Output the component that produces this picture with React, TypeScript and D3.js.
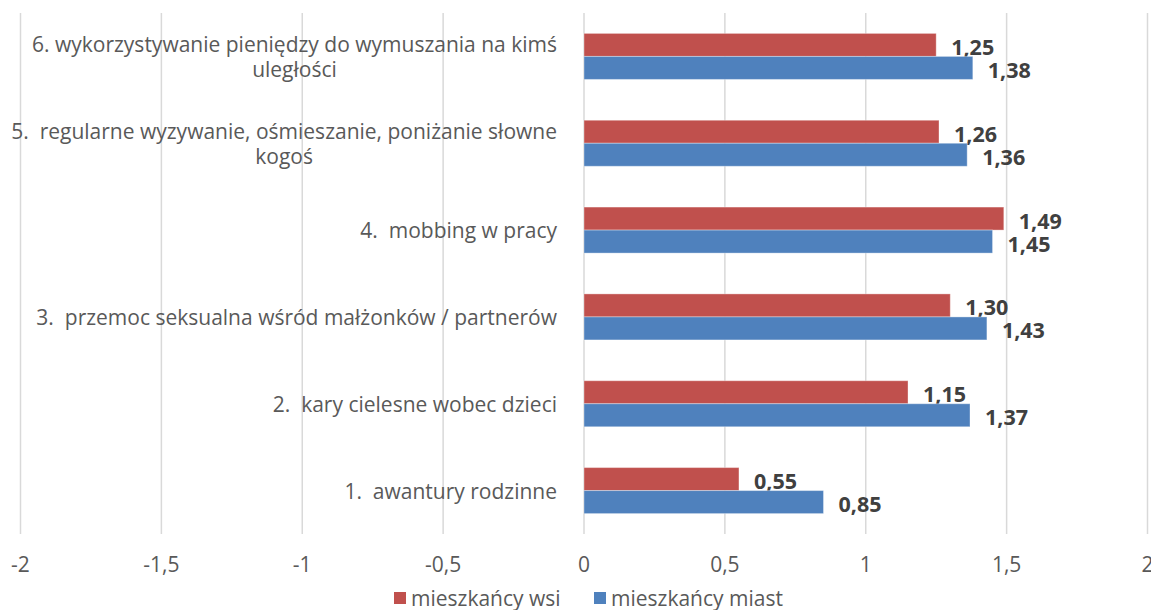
import { useEffect, useRef } from 'react';
import * as d3 from 'd3';

const W = 1151;
const H = 610;

// categories from bottom (1) to top (6), each split into the lines Excel wrapped it into
const CATEGORIES: string[][] = [
  ['1.  awantury rodzinne'],
  ['2.  kary cielesne wobec dzieci'],
  ['3.  przemoc seksualna wśród małżonków / partnerów'],
  ['4.  mobbing w pracy'],
  ['5.  regularne wyzywanie, ośmieszanie, poniżanie słowne', 'kogoś'],
  ['6. wykorzystywanie pieniędzy do wymuszania na kimś', 'uległości'],
];
const WSI = [0.55, 1.15, 1.3, 1.49, 1.26, 1.25];
const MIASTA = [0.85, 1.37, 1.43, 1.45, 1.36, 1.38];
const SERIES = [
  { key: 'wsi', name: 'mieszkańcy wsi', values: WSI, color: '#C0504D' },
  { key: 'miast', name: 'mieszkańcy miast', values: MIASTA, color: '#4F81BD' },
];
const X_TICKS = [-2, -1.5, -1, -0.5, 0, 0.5, 1, 1.5, 2];

const FONT = "'Open Sans', sans-serif";
const TEXT = '#595959';
const fmtTick = (d: number) => String(d).replace('.', ',');
const fmtVal = (d: number) => d.toFixed(2).replace('.', ',');

export default function App() {
  const ref = useRef<SVGSVGElement | null>(null);

  useEffect(() => {
    document.body.style.margin = '0';
    const svg = d3.select(ref.current);
    svg.selectAll('*').remove();

    const x = d3.scaleLinear().domain([-2, 2]).range([20.5, 1147.5]);
    const idx = d3.range(CATEGORIES.length).reverse(); // 6 at top
    const y = d3.scaleBand<number>().domain(idx).range([13, 534]).paddingInner(0.47).paddingOuter(0.235);
    const ySub = d3.scaleBand<string>().domain(SERIES.map(s => s.key)).range([0, y.bandwidth()]);

    // grid
    svg.append('g').selectAll('line').data(X_TICKS).join('line')
      .attr('x1', d => x(d)).attr('x2', d => x(d))
      .attr('y1', 13).attr('y2', 534)
      .attr('stroke', '#D9D9D9').attr('stroke-width', 1.5);

    // tick labels
    svg.append('g').selectAll('text').data(X_TICKS).join('text')
      .attr('x', d => x(d)).attr('y', 564)
      .attr('text-anchor', 'middle').attr('dominant-baseline', 'central')
      .attr('fill', TEXT).style('font-family', FONT).style('font-size', '21px')
      .text(d => fmtTick(d));

    // bars
    SERIES.forEach(s => {
      const g = svg.append('g');
      g.selectAll('rect').data(s.values).join('rect')
        .attr('x', x(0))
        .attr('y', (_, i) => (y(i) ?? 0) + (ySub(s.key) ?? 0))
        .attr('width', d => x(d) - x(0))
        .attr('height', ySub.bandwidth())
        .attr('fill', s.color)
        .attr('stroke', '#ffffff').attr('stroke-opacity', 0.35).attr('stroke-width', 1);
      g.selectAll('text').data(s.values).join('text')
        .attr('x', d => x(d) + 15)
        .attr('y', (_, i) => (y(i) ?? 0) + (ySub(s.key) ?? 0) + ySub.bandwidth() / 2 + 1.5)
        .attr('dominant-baseline', 'central')
        .attr('fill', '#404040').style('font-family', FONT).style('font-size', '21.5px').style('font-weight', 'bold')
        .text(d => fmtVal(d));
    });

    // category labels: block right-aligned, lines centred within the block
    const labelRight = 557;
    const lineH = 25;
    CATEGORIES.forEach((lines, i) => {
      const cy = (y(i) ?? 0) + y.bandwidth() / 2;
      const g = svg.append('g');
      const texts = g.selectAll('text').data(lines).join('text')
        .attr('y', (_, j) => cy + (j - (lines.length - 1) / 2) * lineH)
        .attr('dominant-baseline', 'central')
        .attr('text-anchor', 'middle')
        .attr('fill', TEXT).style('font-family', FONT).style('font-size', '21px')
        .style('white-space', 'pre')
        .text(d => d);
      let maxW = 0;
      texts.each(function () {
        maxW = Math.max(maxW, (this as SVGTextElement).getComputedTextLength());
      });
      texts.attr('x', labelRight - maxW / 2);
    });

    // legend
    const legend = svg.append('g').attr('transform', 'translate(394,598)');
    const offsets = [0, 200];
    SERIES.forEach((s, i) => {
      const lg = legend.append('g').attr('transform', `translate(${offsets[i]},0)`);
      lg.append('rect').attr('x', 0).attr('y', -6).attr('width', 12).attr('height', 12).attr('fill', s.color);
      lg.append('text').attr('x', 17).attr('y', 0).attr('dominant-baseline', 'central')
        .attr('fill', TEXT).style('font-family', FONT).style('font-size', '21px')
        .text(s.name);
    });
  }, []);

  return <svg ref={ref} width={W} height={H} style={{ display: 'block', background: '#fff' }} />;
}
